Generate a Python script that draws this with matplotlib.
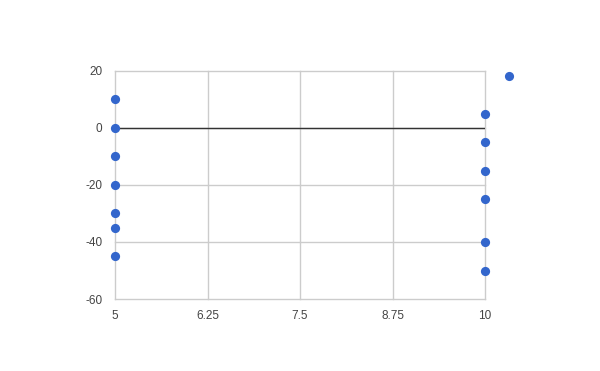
import matplotlib.pyplot as plt
from matplotlib.lines import Line2D

plt.rcParams['font.family'] = ['Liberation Sans', 'DejaVu Sans']
plt.rcParams['axes.unicode_minus'] = False

# data
x_left = [5, 5, 5, 5, 5, 5, 5]
y_left = [10, 0, -10, -20, -30, -35, -45]
x_right = [10, 10, 10, 10, 10, 10]
y_right = [5, -5, -15, -25, -40, -50]
x_ticks = [5, 6.25, 7.5, 8.75, 10]
x_tick_labels = ['5', '6.25', '7.5', '8.75', '10']
y_ticks = [-60, -40, -20, 0, 20]

blue = '#3366cc'

fig = plt.figure(figsize=(6, 3.71), dpi=100, facecolor='white')
ax = fig.add_axes([115/600, 72/371, 370/600, 228/371])

xs = x_left + x_right
ys = y_left + y_right
ax.scatter(xs, ys, s=44, color=blue, zorder=3, clip_on=False, linewidths=0)

ax.set_xlim(5, 10)
ax.set_ylim(-60, 20)
ax.set_xticks(x_ticks)
ax.set_xticklabels(x_tick_labels)
ax.set_yticks(y_ticks)
ax.grid(True, color='#cccccc', linewidth=1)
for gl in ax.get_xgridlines() + ax.get_ygridlines():
    gl.set_clip_on(False)
ax.axhline(0, color='#333333', linewidth=1, zorder=2)
for s in ax.spines.values():
    s.set_visible(False)
ax.tick_params(length=0, labelsize=8.5, colors='#444444', pad=9)
ax.tick_params(axis='x', pad=8)

# legend with an empty label
handle = Line2D([], [], marker='o', linestyle='none', color=blue, markersize=6.6,
                markeredgewidth=0)
fig.legend([handle], [''], loc='center', bbox_to_anchor=(509/600, 1 - 77/371),
           frameon=False, handletextpad=0, borderpad=0, handlelength=0)

fig.savefig('out.png', dpi=100, facecolor='white')
